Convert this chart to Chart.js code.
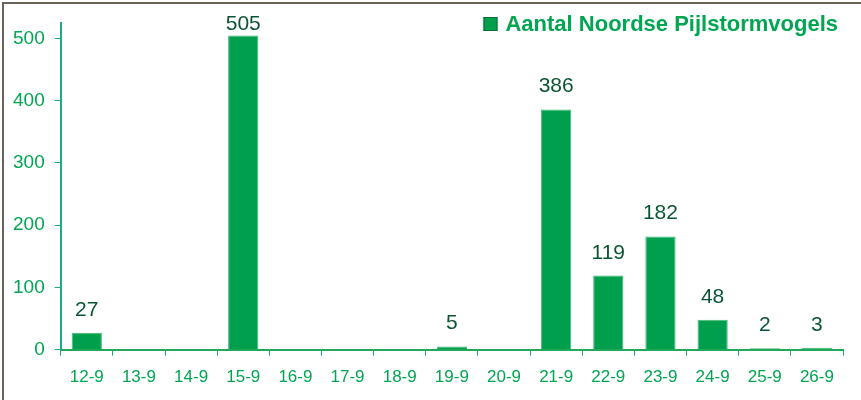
<!DOCTYPE html>
<html>
<head>
<meta charset="utf-8">
<script src="https://cdn.jsdelivr.net/npm/chart.js@4/dist/chart.umd.min.js"></script>
<style>
  html, body { margin: 0; padding: 0; background: #fff; }
  #wrap { width: 861px; height: 400px; position: relative; }
</style>
</head>
<body>
<div id="wrap"><canvas id="myChart"></canvas></div>
<script>
// data
const dagen = ["12-9", "13-9", "14-9", "15-9", "16-9", "17-9", "18-9", "19-9", "20-9", "21-9", "22-9", "23-9", "24-9", "25-9", "26-9"];
const aantallen = [27, 0, 0, 505, 0, 0, 0, 5, 0, 386, 119, 182, 48, 2, 3];
const yTicks = [0, 100, 200, 300, 400, 500];
const serieNaam = "Aantal Noordse Pijlstormvogels";

const groen = "#009f4d";
const donkerGroen = "#0b5534";
const tekstGroen = "#00a651";

// rand links en boven + witte achtergrond
const achtergrond = {
  id: "achtergrond",
  beforeDraw: (chart) => {
    const ctx = chart.ctx;
    ctx.save();
    ctx.fillStyle = "white";
    ctx.fillRect(0, 0, chart.width, chart.height);
    ctx.strokeStyle = "#6b625a";
    ctx.lineWidth = 2;
    ctx.beginPath();
    ctx.moveTo(3, chart.height);
    ctx.lineTo(3, 3);
    ctx.lineTo(chart.width, 3);
    ctx.stroke();
    ctx.restore();
  },
};

// getallen boven de staven
const waardeLabels = {
  id: "waardeLabels",
  afterDatasetsDraw: (chart) => {
    const ctx = chart.ctx;
    const meta = chart.getDatasetMeta(0);
    ctx.save();
    ctx.font = "21px 'Liberation Sans', Arial, sans-serif";
    ctx.fillStyle = donkerGroen;
    ctx.textAlign = "center";
    ctx.textBaseline = "alphabetic";
    meta.data.forEach((bar, i) => {
      const v = chart.data.datasets[0].data[i];
      if (!v) return;
      const y = Math.max(bar.y - 17, chart.chartArea.top + 7);
      ctx.fillText(String(v), bar.x, y);
    });
    ctx.restore();
  },
};

// legenda rechtsboven
const legenda = {
  id: "legenda",
  afterDraw: (chart) => {
    const ctx = chart.ctx;
    const label = chart.data.datasets[0].label;
    ctx.save();
    ctx.font = "bold 22px 'Liberation Sans', Arial, sans-serif";
    const w = ctx.measureText(label).width;
    const right = chart.chartArea.right - 5;
    const cy = 24;
    const tx = right - w;
    ctx.fillStyle = groen;
    ctx.fillRect(tx - 22, cy - 7, 14, 14);
    ctx.strokeStyle = "#0b6b3a";
    ctx.lineWidth = 1;
    ctx.strokeRect(tx - 21.5, cy - 6.5, 13, 13);
    ctx.fillStyle = tekstGroen;
    ctx.textBaseline = "middle";
    ctx.fillText(label, tx, cy + 1);
    ctx.restore();
  },
};

const ctx = document.getElementById("myChart").getContext("2d");
const chart = new Chart(ctx, {
  type: "bar",
  data: {
    labels: dagen,
    datasets: [
      {
        label: serieNaam,
        data: aantallen,
        backgroundColor: groen,
        borderColor: "#46b97a",
        borderWidth: 1,
        categoryPercentage: 1,
        barPercentage: 0.58,
      },
    ],
  },
  options: {
    responsive: true,
    maintainAspectRatio: false,
    animation: false,
    layout: { padding: { top: 23, left: 3, right: 18, bottom: 0 } },
    plugins: {
      legend: { display: false },
      tooltip: { enabled: false },
    },
    scales: {
      x: {
        grid: { display: true, drawOnChartArea: false, drawTicks: true, tickLength: 6, color: "#22a85a", offset: true },
        border: { display: true, color: "#22a85a", width: 2 },
        ticks: {
          color: tekstGroen,
          font: { family: "'Liberation Sans', Arial, sans-serif", size: 17 },
          padding: 12,
          maxRotation: 0,
        },
      },
      y: {
        min: 0,
        max: 525,
        afterBuildTicks: (axis) => {
          axis.ticks = yTicks.map((v) => ({ value: v }));
        },
        grid: { display: true, drawOnChartArea: false, drawTicks: true, tickLength: 6, color: "#1aaa88" },
        border: { display: true, color: "#1aaa88", width: 2 },
        ticks: {
          color: tekstGroen,
          font: { family: "'Liberation Sans', Arial, sans-serif", size: 19 },
          padding: 10,
        },
      },
    },
  },
  plugins: [achtergrond, waardeLabels, legenda],
});
</script>
</body>
</html>
